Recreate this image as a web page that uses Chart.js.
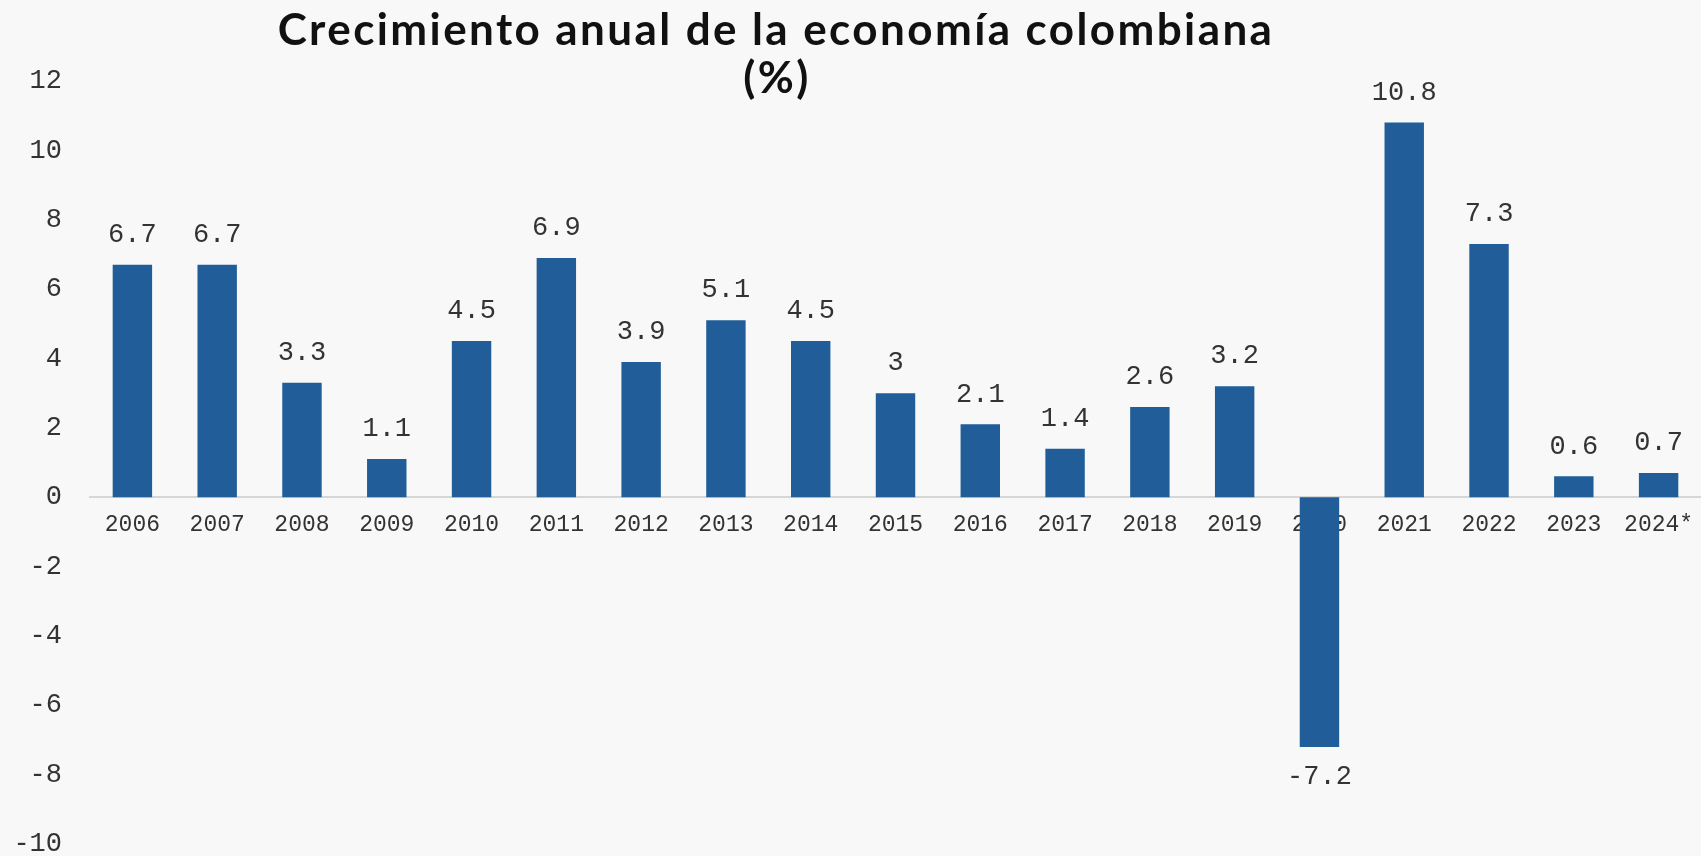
<!DOCTYPE html>
<html lang="es">
<head>
<meta charset="utf-8">
<title>Crecimiento anual de la economía colombiana</title>
<script src="https://cdn.jsdelivr.net/npm/chart.js@4.4.1/dist/chart.umd.min.js"></script>
<style>
  html, body { margin: 0; padding: 0; background: #f8f8f8; }
  #wrap { position: relative; width: 1701px; height: 856px; }
</style>
</head>
<body>
<div id="wrap"><canvas id="growth-chart" width="1701" height="856"></canvas></div>
<script>
// annual GDP growth, %
var years = ["2006", "2007", "2008", "2009", "2010", "2011", "2012", "2013", "2014", "2015",
             "2016", "2017", "2018", "2019", "2020", "2021", "2022", "2023", "2024*"];
var growth = [6.7, 6.7, 3.3, 1.1, 4.5, 6.9, 3.9, 5.1, 4.5, 3, 2.1, 1.4, 2.6, 3.2, -7.2, 10.8, 7.3, 0.6, 0.7];
var yMin = -10, yMax = 12, yStep = 2;
var titleLines = ["Crecimiento anual de la economía colombiana", "(%)"];

var monoFont = "'Liberation Mono', 'Courier New', monospace";
var textColor = "#333";

// title sits on top of the plot, it doesn't take layout space
var titlePlugin = {
    id: "floatingTitle",
    afterDraw: function(chart) {
        var ctx = chart.ctx;
        ctx.save();
        ctx.fillStyle = "#111";
        ctx.font = "bold 44px Lato, 'Open Sans', sans-serif";
        ctx.letterSpacing = "2.4px";
        ctx.textAlign = "center";
        ctx.textBaseline = "alphabetic";
        ctx.fillText(titleLines[0], 776, 45);
        ctx.fillText(titleLines[1], 777, 93);
        ctx.restore();
    }
};

// value labels above (or below) each bar
var valueLabels = {
    id: "valueLabels",
    afterDatasetsDraw: function(chart) {
        var ctx = chart.ctx;
        var meta = chart.getDatasetMeta(0);
        ctx.save();
        ctx.font = "27px " + monoFont;
        ctx.fillStyle = textColor;
        ctx.textAlign = "center";
        ctx.textBaseline = "middle";
        meta.data.forEach(function(bar, i) {
            var v = growth[i];
            var y = v >= 0 ? bar.y - 30 : bar.y + 30;
            ctx.fillText(String(v), bar.x, y);
        });
        ctx.restore();
    }
};

var ctx1 = document.getElementById("growth-chart");

var chart1 = new Chart(ctx1, {
    type: "bar",
    data: {
        labels: years,
        datasets: [{
            data: growth,
            backgroundColor: "#215e99",
            borderWidth: 0,
            barPercentage: 0.465,
            categoryPercentage: 1.0
        }]
    },
    options: {
        responsive: false,
        animation: false,
        layout: { padding: { top: 81, bottom: 12, left: 0, right: -8 } },
        plugins: {
            legend: { display: false },
            title: { display: false },
            tooltip: { enabled: false }
        },
        scales: {
            x: {
                position: { y: 0 },
                grid: { display: false, drawTicks: false },
                border: { display: true, color: "#d6d6d6", width: 2 },
                ticks: {
                    font: { family: monoFont, size: 23 },
                    color: textColor,
                    padding: 14,
                    maxRotation: 0,
                    autoSkip: false
                },
                // last label may hang over the edge
                afterFit: function(scale) { scale.paddingRight = 0; scale.paddingLeft = 0; }
            },
            y: {
                min: yMin,
                max: yMax,
                grid: { display: false, drawTicks: false },
                border: { display: false },
                ticks: {
                    stepSize: yStep,
                    font: { family: monoFont, size: 27 },
                    color: textColor,
                    padding: 28
                },
                // fixed gutter; tick padding would otherwise eat into the bottom
                afterFit: function(scale) {
                    scale.width = 90;
                    scale.paddingTop = 0;
                    scale.paddingBottom = 0;
                }
            }
        }
    },
    plugins: [valueLabels, titlePlugin]
});
</script>
</body>
</html>
